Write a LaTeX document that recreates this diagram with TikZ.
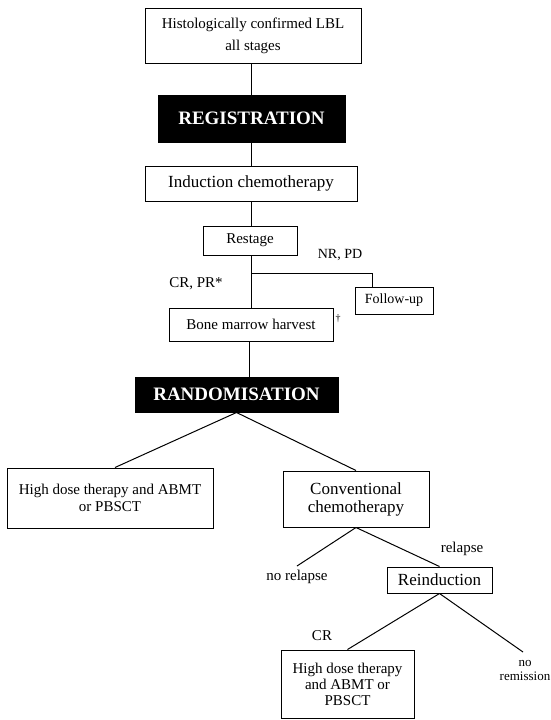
\documentclass[tikz,border=0pt]{standalone}
\usepackage{fontspec}
\setmainfont{Liberation Serif}
\usetikzlibrary{positioning,calc}

\begin{document}
\begin{tikzpicture}[x=1pt, y=-1pt, line width=1pt,
    every node/.style={font=\fontsize{15}{17}\selectfont, align=center, inner sep=2pt},
    box/.style={draw, fill=white},
    bigtext/.style={font=\fontsize{17}{18}\selectfont},
    blackbox/.style={draw, fill=black, text=white, font=\fontsize{19}{22}\selectfont\bfseries},
    lbl/.style={font=\fontsize{15}{16}\selectfont}]
    \useasboundingbox (0,0) rectangle (550,720);

        \node[box, minimum width=216, minimum height=55, font=\fontsize{15}{22}\selectfont] (hist) at (253,35.5) {Histologically confirmed LBL\\all stages};
        \node[blackbox, minimum width=187, minimum height=47] (reg) at (251.5,118.5) {REGISTRATION};
        \node[box, bigtext, minimum width=212, minimum height=35] (ind) at (251,183.5) {Induction chemotherapy};
        \node[box, minimum width=94, minimum height=29] (rst) at (250,240.5) {Restage};
        \node[box, minimum width=78, minimum height=27, font=\fontsize{14}{16}\selectfont] (fol) at (394,300.5) {Follow-up};
        \node[box, minimum width=164, minimum height=33] (bmh) at (251,324.5) {Bone marrow harvest};
        \node[blackbox, minimum width=203, minimum height=35] (rnd) at (236.5,394.5) {RANDOMISATION};
        \node[box, minimum width=206, minimum height=60] (hdt) at (110,498) {High dose therapy and ABMT\\or PBSCT};
        \node[box, bigtext, minimum width=146, minimum height=56] (con) at (356,499) {Conventional\\chemotherapy};
        \node[box, bigtext, minimum width=105, minimum height=26] (rei) at (439.5,580) {Reinduction};
        \node[box, minimum width=133, minimum height=68, font=\fontsize{15}{16}\selectfont] (hdtb) at (347.5,684) {High dose therapy\\and ABMT or\\PBSCT};

        \node[lbl, font=\fontsize{14}{16}\selectfont] (nrpd) at (340,255) {NR, PD};
        \node[lbl] (crpr) at (196,284) {CR, PR*};
        \node[lbl, font=\fontsize{10}{10}\selectfont] (dag) at (338,319) {\textdagger};
        \node[lbl] (rel) at (462,549) {relapse};
        \node[lbl] (norel) at (297,577) {no relapse};
        \node[lbl] (cr) at (322,636) {CR};
        \node[lbl, font=\fontsize{13}{14}\selectfont] (norem) at (525,670) {no\\remission};

        \coordinate (trunk) at (251,0);
        \coordinate (split) at (251,273);
        \coordinate (norelend) at (297,566);
        \coordinate (noremend) at (523,652);

        \draw (hist.south -| trunk) -- (reg.north -| trunk);
        \draw (reg.south -| trunk) -- (ind.north -| trunk);
        \draw (ind.south -| trunk) -- (rst.north -| trunk);
        \draw (rst.south -| trunk) -- (bmh.north -| trunk);
        \draw (split) -| (fol.north -| 372,0);
        \draw (bmh.south -| 249,0) -- (rnd.north -| 249,0);
        \draw (rnd.south) -- (hdt.north -| 115,0);
        \draw (rnd.south) -- (con.north);
        \draw (con.south) -- (norelend);
        \draw (con.south) -- (rei.north);
        \draw (rei.south) -- (hdtb.north);
        \draw (rei.south) -- (noremend);
    \end{tikzpicture}
\end{document}
